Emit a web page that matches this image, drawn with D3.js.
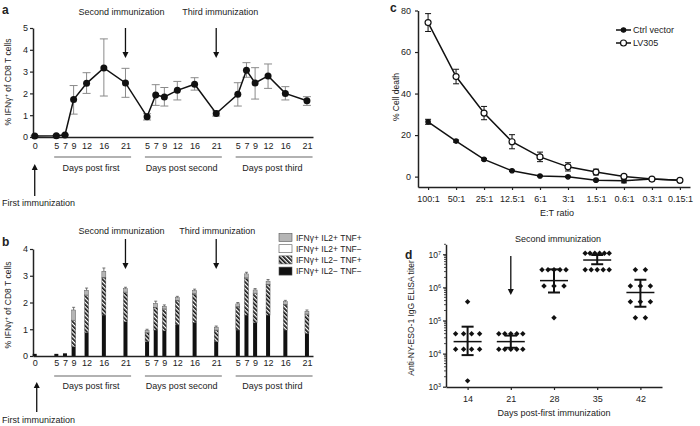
<!DOCTYPE html>
<html>
<head>
<meta charset="utf-8">
<script src="https://cdn.jsdelivr.net/npm/d3@7"></script>
<style>
body { margin: 0; background: #fff; }
text { font-family: "Liberation Sans", Arial, sans-serif; fill: #222; }
.axis path, .axis line { stroke: #222; }
</style>
</head>
<body>
<div id="chart"></div>
<script>
// ---- panel a / b data (days after each immunization) ----
var dayLabels = [0, 5, 7, 9, 12, 16, 21, 5, 7, 9, 12, 16, 21, 5, 7, 9, 12, 16, 21];
var dayCum    = [0, 5, 7, 9, 12, 16, 21, 26, 28, 30, 33, 37, 42, 47, 49, 51, 54, 58, 63];
var groupStarts = [0, 21, 42];
var groupNames = ["Days post first", "Days post second", "Days post third"];

var ifnMean = [0.05, 0.06, 0.09, 1.72, 2.46, 3.17, 2.48, 0.93, 1.93, 1.84, 2.14, 2.42, 1.08, 1.96, 3.06, 2.48, 2.8, 2.0, 1.66];
var ifnLow  = [0.03, 0.04, 0.06, 1.05, 2.0, 1.88, 1.82, 0.78, 1.45, 1.42, 1.7, 2.15, 0.96, 1.42, 2.74, 1.74, 2.23, 1.7, 1.45];
var ifnHigh = [0.07, 0.08, 0.12, 2.36, 2.95, 4.5, 3.15, 1.07, 2.4, 2.27, 2.55, 2.72, 1.2, 2.49, 3.41, 3.18, 3.35, 2.31, 1.85];

// stacked subsets, bottom to top
var il2negTnfneg = [0.08, 0.08, 0.1, 0.35, 0.88, 1.53, 1.28, 0.53, 0.97, 0.94, 1.16, 1.26, 0.53, 0.97, 1.53, 1.24, 1.53, 0.97, 0.85];
var il2negTnfpos = [0, 0, 0, 0.97, 1.38, 1.39, 1.09, 0.33, 0.83, 0.80, 0.90, 1.05, 0.43, 0.86, 1.37, 1.09, 1.13, 0.94, 0.70];
var il2posTnfneg = [0, 0, 0, 0.02, 0.02, 0.02, 0.02, 0.01, 0.02, 0.02, 0.02, 0.02, 0.01, 0.02, 0.02, 0.02, 0.02, 0.02, 0.02];
var il2posTnfpos = [0, 0, 0, 0.38, 0.18, 0.23, 0.13, 0.08, 0.15, 0.10, 0.10, 0.12, 0.11, 0.10, 0.15, 0.12, 0.12, 0.10, 0.10];
var stackErr     = [0, 0, 0, 0.1, 0.08, 0.12, 0.05, 0.05, 0.08, 0.05, 0.05, 0.05, 0.04, 0.05, 0.06, 0.05, 0.06, 0.05, 0.05];
var legendB = ["IFNγ+ IL2+ TNF+", "IFNγ+ IL2+ TNF−", "IFNγ+ IL2− TNF+", "IFNγ+ IL2− TNF−"];

// ---- panel c data ----
var ratios = ["100:1", "50:1", "25:1", "12.5:1", "6:1", "3:1", "1.5:1", "0.6:1", "0.3:1", "0.15:1"];
var ctrlMean = [26.4, 17.1, 8.3, 2.8, 0.3, -0.1, -1.7, -2.0, -1.2, -1.7];
var ctrlErr  = [1.2, 0.5, 0.4, 0.3, 0.3, 0.3, 0.4, 1.0, 0.4, 0.4];
var lvMean   = [74.2, 48.2, 30.6, 16.8, 9.5, 4.7, 2.2, 0.1, -1.2, -1.8];
var lvErr    = [4.3, 3.5, 3.2, 3.4, 2.3, 2.0, 1.4, 0.8, 0.4, 0.4];

// ---- panel d data ----
var titerDays = [14, 21, 28, 35, 42];
var titer14 = [3.7e5, 4e4, 4e4, 4e4, 4e4, 1.35e4, 1.35e4, 1.35e4, 1.35e4, 1.5e3];
var titer21 = [4e4, 4e4, 4e4, 4e4, 4e4, 1.35e4, 1.35e4, 1.35e4, 1.35e4, 1.35e4];
var titer28 = [3.4e6, 3.4e6, 3.4e6, 3.4e6, 3.4e6, 1.1e6, 1.1e6, 1.1e6, 1.2e5];
var titer35 = [1.07e7, 1.07e7, 1.07e7, 1.07e7, 1.07e7, 1.07e7, 3.4e6, 3.4e6, 3.4e6, 3.4e6, 3.4e6];
var titer42 = [3.4e6, 3.4e6, 1.1e6, 1.1e6, 1.1e6, 3.7e5, 3.7e5, 3.7e5, 1.2e5, 1.2e5];
var titerMean = [2.3e4, 2.3e4, 1.6e6, 6.7e6, 7e5];
var titerLo   = [9e3, 1.5e4, 7e5, 5e6, 2.6e5];
var titerHi   = [6.5e4, 3.5e4, 3.5e6, 9.5e6, 1.7e6];

var svg = d3.select("#chart").append("svg")
    .attr("width", 700)
    .attr("height", 426);

var defs = svg.append("defs");
var hatch = defs.append("pattern")
    .attr("id", "hatch")
    .attr("patternUnits", "userSpaceOnUse")
    .attr("width", 3).attr("height", 3)
    .attr("patternTransform", "rotate(-45)");
hatch.append("rect").attr("width", 3).attr("height", 3).attr("fill", "#fff");
hatch.append("rect").attr("width", 1.7).attr("height", 3).attr("fill", "#111");

function panelLetter(x, y, s) {
  svg.append("text").attr("x", x).attr("y", y)
    .attr("font-size", 12).attr("font-weight", "bold").text(s);
}

// vertical arrow, tip at yTip
function arrow(x, yFrom, yTip) {
  var dir = yTip > yFrom ? 1 : -1;
  svg.append("line")
    .attr("x1", x).attr("x2", x)
    .attr("y1", yFrom).attr("y2", yTip - dir * 5)
    .attr("stroke", "#111").attr("stroke-width", 1.3);
  svg.append("path")
    .attr("d", "M" + (x - 3) + "," + (yTip - dir * 6) + "L" + (x + 3) + "," + (yTip - dir * 6) + "L" + x + "," + yTip + "Z")
    .attr("fill", "#111");
}

function annot(x, y, s, anchor) {
  svg.append("text").attr("x", x).attr("y", y)
    .attr("font-size", 9).attr("text-anchor", anchor || "middle").text(s);
}

function yLabel(x, y, parts) {
  var t = svg.append("text")
    .attr("transform", "translate(" + x + "," + y + ") rotate(-90)")
    .attr("text-anchor", "middle").attr("font-size", 8.5);
  parts.forEach(function(p) {
    var ts = t.append("tspan").text(p[0]);
    if (p[1]) ts.attr("baseline-shift", "super").attr("font-size", 6);
  });
}

function styleAxis(g) {
  g.selectAll("path").attr("stroke-width", 1.5);
  g.selectAll("line").attr("stroke-width", 1.2);
  g.selectAll("text").attr("font-size", 9).attr("fill", "#222");
}

// ========== shared x for a and b ==========
var xA = d3.scaleLinear().domain([-0.4, 64.4]).range([33, 313]);

function dayAxis(yBase, pad, yLine, yText) {
  var ax = svg.append("g").attr("class", "axis")
    .attr("transform", "translate(0," + yBase + ")")
    .call(d3.axisBottom(xA).tickValues(dayCum).tickSize(0).tickPadding(pad)
      .tickFormat(function(d, i) { return dayLabels[i]; }));
  styleAxis(ax);
  groupStarts.forEach(function(s, i) {
    svg.append("line")
      .attr("x1", xA(s + 4.5)).attr("x2", xA(s + 22.3))
      .attr("y1", yLine).attr("y2", yLine)
      .attr("stroke", "#666").attr("stroke-width", 1.2);
    annot(xA(s + 13), yText, groupNames[i]);
  });
}

// ========== panel a ==========
panelLetter(2, 14, "a");
var yA = d3.scaleLinear().domain([0, 5]).range([137, 28]);

var gyA = svg.append("g").attr("class", "axis")
  .attr("transform", "translate(33,0)")
  .call(d3.axisLeft(yA).ticks(5).tickSize(3).tickSizeOuter(0).tickPadding(2));
styleAxis(gyA);
dayAxis(137, 6, 157, 171);
yLabel(11, 82, [["% IFNγ"], ["+", true], [" of CD8 T cells"]]);

annot(xA(21) - 4, 15, "Second immunization");
annot(xA(42) + 4, 15, "Third immunization");
arrow(xA(21), 28, 58);
arrow(xA(42), 28, 58);
arrow(xA(0), 196, 164);
annot(2, 206, "First immunization", "start");

var errA = svg.append("g").attr("stroke", "#8a8a8a").attr("stroke-width", 1);
dayCum.forEach(function(d, i) {
  errA.append("line").attr("x1", xA(d)).attr("x2", xA(d))
    .attr("y1", yA(ifnLow[i])).attr("y2", yA(ifnHigh[i]));
  [ifnLow[i], ifnHigh[i]].forEach(function(v) {
    errA.append("line").attr("x1", xA(d) - 4).attr("x2", xA(d) + 4)
      .attr("y1", yA(v)).attr("y2", yA(v));
  });
});

svg.append("path")
  .datum(dayCum)
  .attr("fill", "none").attr("stroke", "#111").attr("stroke-width", 1.5)
  .attr("d", d3.line().x(function(d) { return xA(d); })
    .y(function(d, i) { return yA(ifnMean[i]); }));

svg.append("g").selectAll("circle").data(dayCum).enter().append("circle")
  .attr("cx", function(d) { return xA(d); })
  .attr("cy", function(d, i) { return yA(ifnMean[i]); })
  .attr("r", 3.5).attr("fill", "#111");

// ========== panel b ==========
panelLetter(2, 246, "b");
var yB = d3.scaleLinear().domain([0, 4]).range([356, 249]);
var gyB = svg.append("g").attr("class", "axis")
  .attr("transform", "translate(33,0)")
  .call(d3.axisLeft(yB).ticks(4).tickSize(3).tickSizeOuter(0).tickPadding(2));
styleAxis(gyB);
yLabel(11, 305, [["% IFNγ"], ["+", true], [" of CD8 T cells"]]);

var layers = [il2negTnfneg, il2negTnfpos, il2posTnfneg, il2posTnfpos];
var layerFill = ["#111", "url(#hatch)", "#fff", "#b5b5b5"];
var barW = 4;
dayCum.forEach(function(d, i) {
  var base = 0;
  layers.forEach(function(arr, k) {
    var v = arr[i];
    if (v > 0) {
      svg.append("rect")
        .attr("x", xA(d) - barW / 2).attr("width", barW)
        .attr("y", yB(base + v)).attr("height", yB(base) - yB(base + v))
        .attr("fill", layerFill[k])
        .attr("stroke", k == 0 ? "none" : "#444").attr("stroke-width", 0.4);
    }
    base += v;
  });
  if (stackErr[i] > 0) {
    svg.append("line").attr("x1", xA(d)).attr("x2", xA(d))
      .attr("y1", yB(base)).attr("y2", yB(base + stackErr[i]))
      .attr("stroke", "#555").attr("stroke-width", 0.8);
    svg.append("line").attr("x1", xA(d) - 1.5).attr("x2", xA(d) + 1.5)
      .attr("y1", yB(base + stackErr[i])).attr("y2", yB(base + stackErr[i]))
      .attr("stroke", "#555").attr("stroke-width", 0.8);
  }
});

dayAxis(356, 4, 376, 389);

annot(xA(21) - 4, 234, "Second immunization");
annot(xA(42) + 1, 234, "Third immunization");
arrow(xA(21), 239, 269);
arrow(xA(42), 239, 269);
arrow(xA(0) + 2, 412, 382);
annot(2, 423, "First immunization", "start");

var legFill = [layerFill[3], layerFill[2], layerFill[1], layerFill[0]];
legendB.forEach(function(s, i) {
  var yy = 237.5 + i * 11.2;
  svg.append("rect").attr("x", 279).attr("y", yy - 4).attr("width", 13).attr("height", 8)
    .attr("fill", legFill[i]).attr("stroke", "#555").attr("stroke-width", 0.6);
  svg.append("text").attr("x", 296).attr("y", yy + 3)
    .attr("font-size", 8.5).text(s);
});

// ========== panel c ==========
panelLetter(390, 12, "c");
var xC = d3.scalePoint().domain(ratios).range([418, 690]).padding(0.36);
var yC = d3.scaleLinear().domain([-5, 80]).range([187, 10.5]);

var gyC = svg.append("g").attr("class", "axis")
  .attr("transform", "translate(418,0)")
  .call(d3.axisLeft(yC).tickValues([0, 20, 40, 60, 80]).tickSize(3).tickSizeOuter(0).tickPadding(4));
styleAxis(gyC);
var gxC = svg.append("g").attr("class", "axis")
  .attr("transform", "translate(0,187)")
  .call(d3.axisBottom(xC).tickSize(3).tickSizeOuter(0).tickPadding(6));
styleAxis(gxC);
annot(557, 216, "E:T ratio");
yLabel(399, 97, [["% Cell death"]]);

function seriesC(mean, err, open, r) {
  var g = svg.append("g");
  ratios.forEach(function(d, i) {
    var x = xC(d);
    g.append("line").attr("x1", x).attr("x2", x)
      .attr("y1", yC(mean[i] - err[i])).attr("y2", yC(mean[i] + err[i]))
      .attr("stroke", "#111").attr("stroke-width", 1);
    [mean[i] - err[i], mean[i] + err[i]].forEach(function(v) {
      g.append("line").attr("x1", x - 3).attr("x2", x + 3)
        .attr("y1", yC(v)).attr("y2", yC(v))
        .attr("stroke", "#111").attr("stroke-width", 1);
    });
  });
  g.append("path").datum(ratios)
    .attr("fill", "none").attr("stroke", "#111").attr("stroke-width", 1.5)
    .attr("d", d3.line().x(function(d) { return xC(d); })
      .y(function(d, i) { return yC(mean[i]); }));
  g.selectAll("circle").data(ratios).enter().append("circle")
    .attr("cx", function(d) { return xC(d); })
    .attr("cy", function(d, i) { return yC(mean[i]); })
    .attr("r", r)
    .attr("fill", open ? "#fff" : "#111")
    .attr("stroke", "#111").attr("stroke-width", 1.2);
}
seriesC(ctrlMean, ctrlErr, false, 2.2);
seriesC(lvMean, lvErr, true, 3);

[["Ctrl vector", false, 2.2], ["LV305", true, 3]].forEach(function(l, i) {
  var yy = 30 + i * 13;
  svg.append("line").attr("x1", 616).attr("x2", 631).attr("y1", yy).attr("y2", yy)
    .attr("stroke", "#111").attr("stroke-width", 1.5);
  svg.append("circle").attr("cx", 623.5).attr("cy", yy).attr("r", l[2])
    .attr("fill", l[1] ? "#fff" : "#111").attr("stroke", "#111").attr("stroke-width", 1.2);
  svg.append("text").attr("x", 633).attr("y", yy + 3).attr("font-size", 9).text(l[0]);
});

// ========== panel d ==========
panelLetter(405, 259, "d");
var xD = d3.scalePoint().domain(titerDays).range([446, 662]).padding(0.5);
var yD = d3.scaleLog().domain([1e3, 2e7]).range([386.7, 244.3]);

var gyD = svg.append("g").attr("class", "axis")
  .attr("transform", "translate(446,0)")
  .call(d3.axisLeft(yD).tickValues([1e3, 1e4, 1e5, 1e6, 1e7]).tickSize(3).tickSizeOuter(0)
    .tickFormat(""));
styleAxis(gyD);
gyD.selectAll(".tick").each(function(d) {
  var t = d3.select(this).append("text")
    .attr("x", -5).attr("dy", "0.32em").attr("text-anchor", "end")
    .attr("font-size", 8.5).attr("fill", "#222");
  t.append("tspan").text("10");
  t.append("tspan").attr("baseline-shift", "super").attr("font-size", 5.5)
    .text(Math.round(Math.log10(d)));
});
// minor ticks
var minor = [];
for (var e = 3; e < 8; e++) for (var m = 2; m < 10; m++) if (m * Math.pow(10, e) <= 2e7) minor.push(m * Math.pow(10, e));
svg.append("g").selectAll("line").data(minor).enter().append("line")
  .attr("x1", 444).attr("x2", 446)
  .attr("y1", function(d) { return yD(d); }).attr("y2", function(d) { return yD(d); })
  .attr("stroke", "#222").attr("stroke-width", 0.8);

var gxD = svg.append("g").attr("class", "axis")
  .attr("transform", "translate(0,387)")
  .call(d3.axisBottom(xD).tickSize(3).tickSizeOuter(0).tickPadding(6));
styleAxis(gxD);
annot(554, 416, "Days post-first immunization");
annot(558, 242, "Second immunization");
yLabel(414, 318, [["Anti-NY-ESO-1 IgG ELISA titer"]]);
arrow(xD(21), 256, 295);

var titers = [titer14, titer21, titer28, titer35, titer42];
var diamond = d3.symbol().type(d3.symbolSquare).size(15);
titers.forEach(function(vals, j) {
  var cx = xD(titerDays[j]);
  var rows = d3.groups(vals, function(v) { return v; });
  rows.forEach(function(r) {
    var n = r[1].length;
    var sp = n > 1 ? Math.min(10, 24 / (n - 1)) : 0;
    r[1].forEach(function(v, k) {
      svg.append("path").attr("d", diamond)
        .attr("transform", "translate(" + (cx + (k - (n - 1) / 2) * sp) + "," + yD(v) + ") rotate(45)")
        .attr("fill", "#111");
    });
  });
  svg.append("line").attr("x1", cx - 14).attr("x2", cx + 14)
    .attr("y1", yD(titerMean[j])).attr("y2", yD(titerMean[j]))
    .attr("stroke", "#111").attr("stroke-width", 1.5);
  svg.append("line").attr("x1", cx).attr("x2", cx)
    .attr("y1", yD(titerLo[j])).attr("y2", yD(titerHi[j]))
    .attr("stroke", "#111").attr("stroke-width", 2);
  [titerLo[j], titerHi[j]].forEach(function(v) {
    svg.append("line").attr("x1", cx - 6).attr("x2", cx + 6)
      .attr("y1", yD(v)).attr("y2", yD(v))
      .attr("stroke", "#111").attr("stroke-width", 2);
  });
});
</script>
</body>
</html>
